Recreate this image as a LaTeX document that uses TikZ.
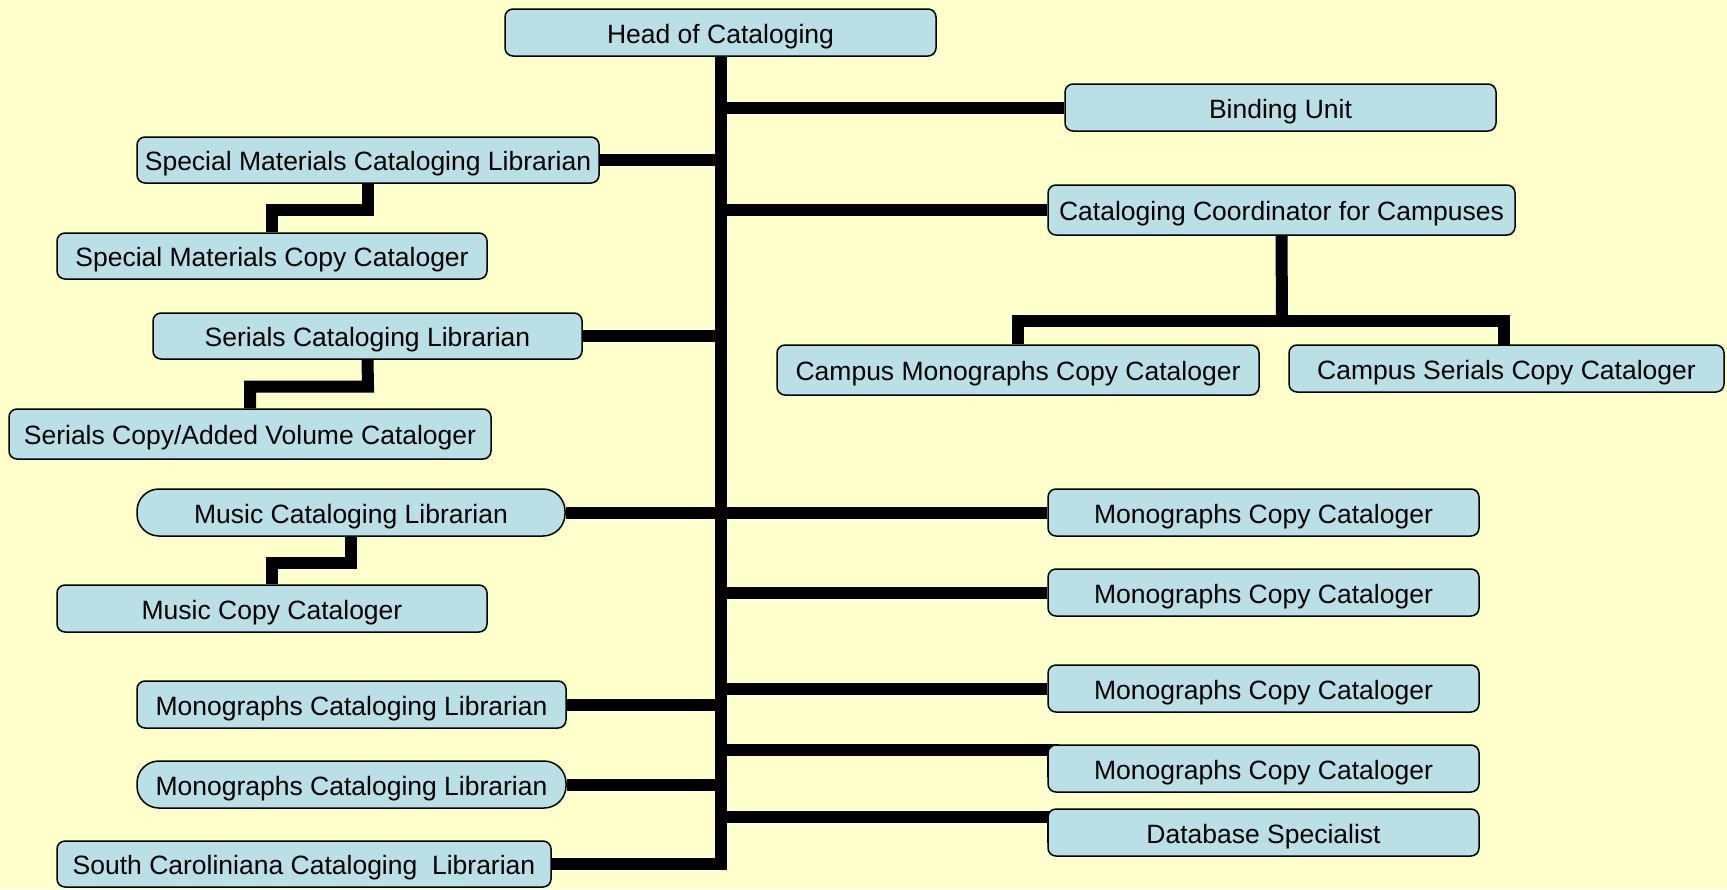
\documentclass[tikz,border=0pt]{standalone}
\usepackage{fontspec}
\setmainfont{Liberation Sans}
\definecolor{bgyellow}{HTML}{FFFFCC}
\definecolor{boxblue}{HTML}{B9E0E6}
\pgfdeclarelayer{bglayer}
\pgfsetlayers{bglayer,main}
\begin{document}
\begin{tikzpicture}[x=1pt,y=-1pt,
  box/.style={draw=black, fill=boxblue, line width=1.5pt, rounded corners=8pt,
    rectangle, inner sep=0pt, align=center, text height=21.6pt, text depth=0pt,
    font=\fontsize{26.5}{30}\selectfont},
  pill/.style={box, rounded corners=22pt},
  conn/.style={draw=black, line width=12pt, line join=miter}]
\useasboundingbox (0,0) rectangle (1727,889);

\path
  (720.5,32.5) node[box, minimum width=431pt, minimum height=47pt] (head) {Head of Cataloging}
  (1280.5,107.5) node[box, minimum width=431pt, minimum height=47pt] (binding) {Binding Unit}
  (368,160) node[box, minimum width=462pt, minimum height=46pt] (smcl) {Special Materials Cataloging Librarian}
  (272,256) node[box, minimum width=430pt, minimum height=46pt] (smcc) {Special Materials Copy Cataloger}
  (1281.5,210) node[box, minimum width=467pt, minimum height=50pt] (ccc) {Cataloging Coordinator for Campuses}
  (367.5,336) node[box, minimum width=429pt, minimum height=46pt] (scl) {Serials Cataloging Librarian}
  (250,434) node[box, minimum width=482pt, minimum height=50pt] (scavc) {Serials Copy/Added Volume Cataloger}
  (1018,370) node[box, minimum width=482pt, minimum height=50pt] (cmcc) {Campus Monographs Copy Cataloger}
  (1506.5,368.5) node[box, minimum width=435pt, minimum height=47pt] (cscc) {Campus Serials Copy Cataloger}
  (351,512.5) node[pill, minimum width=428pt, minimum height=47pt] (mcl) {Music Cataloging Librarian}
  (272,608.5) node[box, minimum width=430pt, minimum height=47pt] (mcc) {Music Copy Cataloger}
  (351.5,704.5) node[box, minimum width=429pt, minimum height=47pt] (mocla) {Monographs Cataloging Librarian}
  (351.5,784.5) node[pill, minimum width=429pt, minimum height=47pt] (moclb) {Monographs Cataloging Librarian}
  (304,864) node[box, minimum width=494pt, minimum height=46pt] (sccl) {South Caroliniana Cataloging\ \ Librarian}
  (1263.5,512.5) node[box, minimum width=431pt, minimum height=47pt] (mcopya) {Monographs Copy Cataloger}
  (1263.5,592.5) node[box, minimum width=431pt, minimum height=47pt] (mcopyb) {Monographs Copy Cataloger}
  (1263.5,688.5) node[box, minimum width=431pt, minimum height=47pt] (mcopyc) {Monographs Copy Cataloger}
  (1263.5,768.5) node[box, minimum width=431pt, minimum height=47pt] (mcopyd) {Monographs Copy Cataloger}
  (1263.5,832.5) node[box, minimum width=431pt, minimum height=47pt] (dbs) {Database Specialist};

\coordinate (cj) at (1282,321);
\coordinate (csj) at (1504,345);
\coordinate (smj) at (368,210);
\coordinate (scj) at (368,386.5);
\coordinate (muj) at (351,562.5);
\coordinate (mda) at (1053,750);
\coordinate (mdb) at (1053,777);
\coordinate (dba) at (1053,817);
\coordinate (dbb) at (1053,843);

\begin{pgfonlayer}{bglayer}
\fill[bgyellow] (0,0) rectangle (1727,889);
\draw[conn] (head.south) |- (sccl.east);
\draw[conn] (head.south |- binding.west) -- (binding.west);
\draw[conn] (smcl.east) -- (smcl.east -| head.south);
\draw[conn] (head.south |- ccc.west) -- (ccc.west);
\draw[conn] (scl.east) -- (scl.east -| head.south);
\draw[conn] (mcl.east) -- (mcopya.west);
\draw[conn] (head.south |- mcopyb.west) -- (mcopyb.west);
\draw[conn] (mocla.east) -- (mocla.east -| head.south);
\draw[conn] (head.south |- mcopyc.west) -- (mcopyc.west);
\draw[conn] (head.south |- mda) -- (mda) -- (mdb);
\draw[conn] (moclb.east) -- (moclb.east -| head.south);
\draw[conn] (head.south |- dba) -- (dba) -- (dbb);
\draw[conn] (ccc.south) -- (cj);
\draw[conn] (cmcc.north) |- (cj) -| (csj);
\draw[conn] (smcl.south) -- (smj) -| (smcc.north);
\draw[conn] (scl.south) -- (scj) -| (scavc.north);
\draw[conn] (mcl.south) -- (muj) -| (mcc.north);
\end{pgfonlayer}
\end{tikzpicture}
\end{document}
